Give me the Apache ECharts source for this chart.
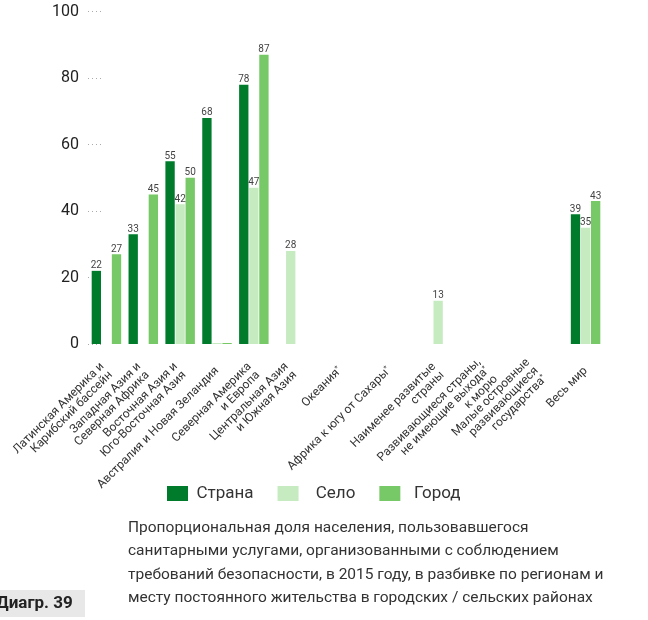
<!DOCTYPE html>
<html>
<head>
<meta charset="utf-8">
<script src="https://cdn.jsdelivr.net/npm/echarts@6/dist/echarts.min.js"></script>
<style>
  html, body { margin: 0; padding: 0; background: #fff; }
  #charts { width: 648px; height: 620px; }
</style>
</head>
<body>
<div id="charts"></div>
<script>
/* data */
const categories = [
  "Латинская Америка и\nКарибский бассейн",
  "Западная Азия и\nСеверная Африка",
  "Восточная Азия и\nЮго-Восточная Азия",
  "Австралия и Новая Зеландия",
  "Северная Америка\nи Европа",
  "Центральная Азия\nи Южная Азия",
  "Океания*",
  "Африка к югу от Сахары*",
  "Наименее развитые\nстраны",
  "Развивающиеся страны,\nне имеющие выхода*\nк морю",
  "Малые островные\nразвивающиеся\nгосударства*",
  "Весь мир",
];
const seriesNames = ["Страна", "Село", "Город"];
// bar groups (14 slots in the source chart, labels are spread differently)
const countryValues = [22, 33, 55, 68, 78, null, null, null, null, null, null, null, null, 39];
const ruralValues = [null, null, 42, 0, 47, 28, null, null, null, 13, null, null, null, 35];
const urbanValues = [27, 45, 50, 0, 87, null, null, null, null, null, null, null, null, 43];
const yTicks = [0, 20, 40, 60, 80, 100];
const captionLines = [
  "Пропорциональная доля населения, пользовавшегося",
  "санитарными услугами, организованными с соблюдением",
  "требований безопасности, в 2015 году, в разбивке по регионам и",
  "месту постоянного жительства в городских / сельских районах",
];

/* layout helpers */
const colors = ["#007b2c", "#c6ebc1", "#77c866"];
const labelSlots = [1, 4, 7, 10, 13, 16, 20, 24, 28, 32, 36, 40]; // where each name sits on a 42-slot label axis
let labelAxisData = new Array(42).fill("");
labelSlots.forEach(function (slot, i) {
  labelAxisData[slot] = categories[i];
});
let groupSlots = countryValues.map(function (v, i) {
  return String(i);
});

function barSeries(name, values) {
  return {
    name: name,
    type: "bar",
    xAxisIndex: 0,
    data: values,
    barGap: "8%",
    barCategoryGap: "20%",
    barMinHeight: 1,
    label: {
      show: true,
      position: "top",
      distance: 0,
      fontFamily: "Roboto",
      fontSize: 10,
      color: "#444",
      formatter: function (p) {
        return p.value > 0 ? p.value : "";
      },
    },
  };
}

let myChart = echarts.init(document.getElementById("charts"));
let option = {
  animation: false,
  color: colors,
  textStyle: { fontFamily: "Roboto" },
  grid: { left: 88, right: 44, top: 11.5, bottom: 276, containLabel: false },
  xAxis: [
    { type: "category", data: groupSlots, show: false },
    {
      type: "category",
      data: labelAxisData,
      position: "bottom",
      axisLine: { show: false },
      axisTick: { show: false },
      axisLabel: {
        interval: 0,
        rotate: 45,
        margin: 25,
        fontSize: 12,
        lineHeight: 12,
        color: "#333",
        formatter: function (v) {
          return v.replace("*", "{s|*}");
        },
        rich: { s: { fontSize: 7, verticalAlign: "top", color: "#333" } },
      },
    },
  ],
  yAxis: {
    type: "value",
    min: yTicks[0],
    max: yTicks[yTicks.length - 1],
    interval: 20,
    axisLine: { show: false },
    axisTick: {
      show: true,
      inside: true,
      length: 14,
      lineStyle: { color: "#aaa", type: [1, 3] },
    },
    splitLine: { show: false },
    axisLabel: { fontSize: 16, color: "#222", margin: 9 },
  },
  legend: {
    data: seriesNames,
    left: 162,
    top: 480,
    icon: "rect",
    itemWidth: 21,
    itemHeight: 15,
    itemGap: 24,
    formatter: "{a|{name}}",
    textStyle: {
      rich: { a: { width: 64, align: "center", fontSize: 17, color: "#333" } },
    },
  },
  title: {
    text: captionLines.join("\n"),
    left: 128,
    top: 516,
    padding: 0,
    textStyle: { fontSize: 15.5, fontWeight: "normal", lineHeight: 23.5, color: "#333" },
  },
  graphic: [
    {
      type: "rect",
      shape: { x: 0, y: 590, width: 85, height: 27 },
      style: { fill: "#e8e8e8" },
    },
    {
      type: "text",
      x: -4,
      y: 604,
      style: {
        text: "Диагр. 39",
        fontSize: 17,
        fontWeight: "bold",
        fill: "#222",
        verticalAlign: "middle",
        fontFamily: "Roboto",
      },
    },
  ],
  series: [
    barSeries(seriesNames[0], countryValues),
    barSeries(seriesNames[1], ruralValues),
    barSeries(seriesNames[2], urbanValues),
  ],
};
myChart.setOption(option);
</script>
</body>
</html>
